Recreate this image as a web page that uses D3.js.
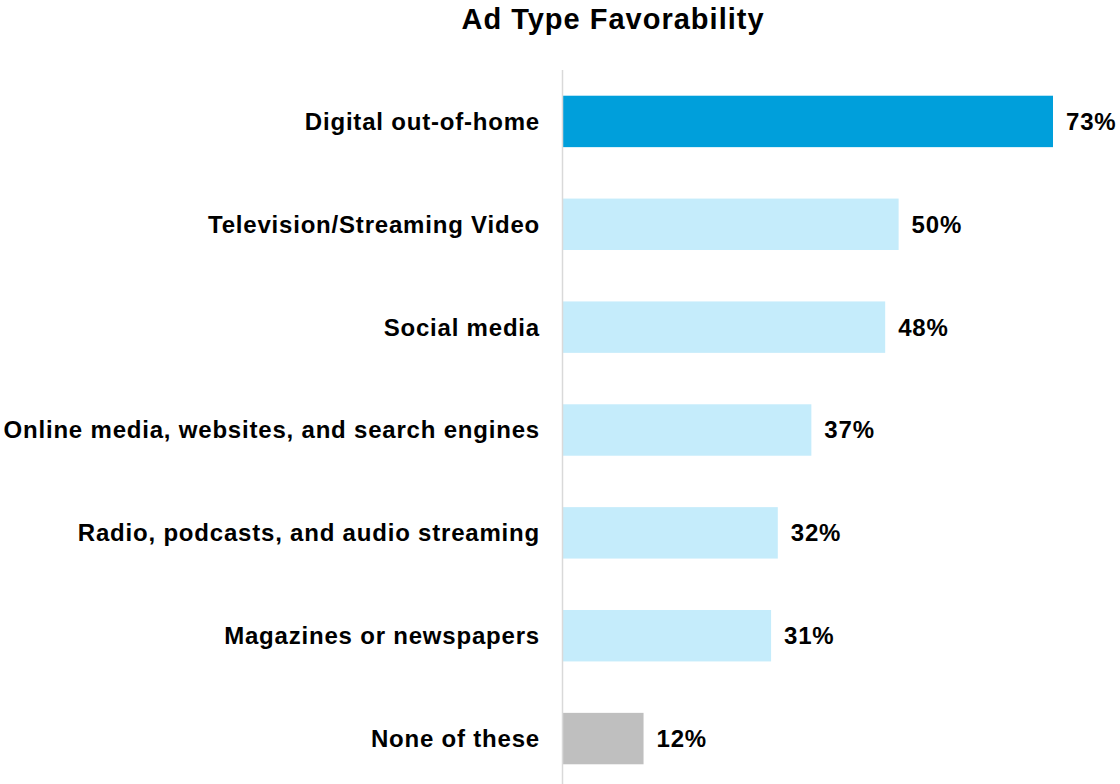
<!DOCTYPE html>
<html>
<head>
<meta charset="utf-8">
<script src="https://cdn.jsdelivr.net/npm/d3@7"></script>
<style>
  body { margin: 0; background: #ffffff; }
  text { font-family: "Liberation Sans", Arial, sans-serif; font-weight: bold; fill: #000; }
</style>
</head>
<body>
<div id="chart"></div>
<script>
// data
var categories = ["Digital out-of-home", "Television/Streaming Video", "Social media",
    "Online media, websites, and search engines", "Radio, podcasts, and audio streaming",
    "Magazines or newspapers", "None of these"];
var values = [73, 50, 48, 37, 32, 31, 12];
var barColors = ["#009fdb", "#c5ecfb", "#c5ecfb", "#c5ecfb", "#c5ecfb", "#c5ecfb", "#bfbfbf"];

var margin = { top: 70, right: 40, bottom: 0, left: 562 },
    width = 1120 - margin.left - margin.right,
    height = 784 - margin.top - margin.bottom;

var svg = d3.select("#chart")
    .append("svg")
    .attr("width", 1120)
    .attr("height", 784);

var g = svg.append("g")
    .attr("transform", "translate(" + margin.left + "," + margin.top + ")");

// title
svg.append("text")
    .attr("x", 613)
    .attr("y", 29)
    .attr("text-anchor", "middle")
    .style("font-size", "29px")
    .style("letter-spacing", "1px")
    .text("Ad Type Favorability");

var x = d3.scaleLinear()
    .domain([0, 73])
    .range([0, 490]);

var y = d3.scaleBand()
    .domain(categories)
    .range([0, 720])
    .paddingInner(0.5)
    .paddingOuter(0.25);

var data = categories.map(function(c, i) { return { name: c, value: values[i], color: barColors[i] }; });

// bars
g.selectAll("rect.bar")
    .data(data)
    .enter()
    .append("rect")
    .attr("class", "bar")
    .attr("x", 1)
    .attr("y", function(d) { return y(d.name); })
    .attr("width", function(d) { return x(d.value); })
    .attr("height", y.bandwidth())
    .attr("fill", function(d) { return d.color; });

// vertical axis line
g.append("line")
    .attr("x1", 0.5).attr("x2", 0.5)
    .attr("y1", 0).attr("y2", height)
    .attr("stroke", "#d9d9d9")
    .attr("stroke-width", 1.5);

// category labels
g.selectAll("text.cat")
    .data(data)
    .enter()
    .append("text")
    .attr("class", "cat")
    .attr("x", -22)
    .attr("y", function(d) { return y(d.name) + y.bandwidth() / 2; })
    .attr("dy", "0.35em")
    .attr("text-anchor", "end")
    .style("font-size", "24px")
    .style("letter-spacing", "0.8px")
    .text(function(d) { return d.name; });

// value labels
g.selectAll("text.val")
    .data(data)
    .enter()
    .append("text")
    .attr("class", "val")
    .attr("x", function(d) { return x(d.value) + 14; })
    .attr("y", function(d) { return y(d.name) + y.bandwidth() / 2; })
    .attr("dy", "0.35em")
    .style("font-size", "24px")
    .style("letter-spacing", "0.8px")
    .text(function(d) { return d.value + "%"; });
</script>
</body>
</html>
